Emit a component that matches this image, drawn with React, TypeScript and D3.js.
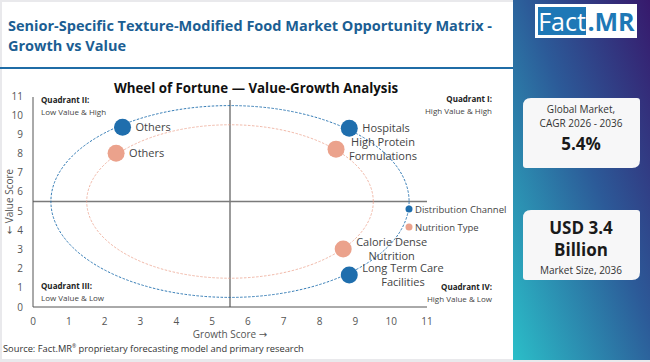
import { useEffect, useRef } from 'react';
import * as d3 from 'd3';

const W = 650, H = 362;
const X0 = 33, X1 = 427, Y0 = 307, Y1 = 96;
const FONT = "'Open Sans', 'DejaVu Sans', sans-serif";

const ticks = [0, 1, 2, 3, 4, 5, 6, 7, 8, 9, 10, 11];
const seriesNames = ['Distribution Channel', 'Nutrition Type'];
const seriesColors = ['#1f6ead', '#eba28c'];
const ringRadius = [5, 4];
const center = 5.5;

const channelLabels = ['Others', 'Hospitals', 'Long Term Care\nFacilities'];
const channelGrowth = [2.5, 8.83, 8.83];
const channelValue = [9.37, 9.32, 1.67];

const nutritionLabels = ['Others', 'High Protein\nFormulations', 'Calorie Dense\nNutrition'];
const nutritionGrowth = [2.32, 8.46, 8.66];
const nutritionValue = [8.02, 8.23, 3.02];

export default function App() {
  const svgRef = useRef<SVGSVGElement>(null);

  useEffect(() => {
    const svg = d3.select(svgRef.current);
    svg.selectAll('*').remove();

    const x = d3.scaleLinear().domain([0, 11]).range([X0, X1]);
    const y = d3.scaleLinear().domain([0, 11]).range([Y0, Y1]);

    const defs = svg.append('defs');
    const grad = defs.append('linearGradient')
      .attr('id', 'side')
      .attr('x1', 1).attr('y1', 0).attr('x2', 0).attr('y2', 1);
    grad.append('stop').attr('offset', 0).attr('stop-color', '#37196c');
    grad.append('stop').attr('offset', 0.45).attr('stop-color', '#2c5a98');
    grad.append('stop').attr('offset', 1).attr('stop-color', '#2bbec8');

    // frame
    svg.append('rect').attr('width', W).attr('height', H).attr('fill', '#e9e9ec');
    svg.append('rect').attr('x', 2).attr('y', 2).attr('width', 512).attr('height', 357).attr('fill', '#fff');
    svg.append('rect').attr('x', 513).attr('y', 0).attr('width', 137).attr('height', 360).attr('fill', 'url(#side)');
    svg.append('line').attr('x1', 0).attr('x2', 513).attr('y1', 68).attr('y2', 68)
      .attr('stroke', '#1f6ca6').attr('stroke-width', 2);

    // title
    const title = svg.append('text').attr('font-family', FONT).attr('font-weight', 700)
      .attr('font-size', 14.5).attr('fill', '#1b5e93');
    title.append('tspan').attr('x', 8).attr('y', 31).text('Senior-Specific Texture-Modified Food Market Opportunity Matrix -');
    title.append('tspan').attr('x', 8).attr('y', 51).text('Growth vs Value');

    // sidebar
    const logo = svg.append('g');
    logo.append('rect').attr('x', 535).attr('y', 4).attr('width', 102).attr('height', 34).attr('fill', '#fff');
    logo.append('rect').attr('x', 538).attr('y', 7).attr('width', 48).attr('height', 28).attr('fill', '#1e78b6');
    logo.append('text').attr('x', 562).attr('y', 31).attr('text-anchor', 'middle')
      .attr('font-family', FONT).attr('font-size', 25).attr('fill', '#fff').text('Fact');
    logo.append('text').attr('x', 611).attr('y', 31).attr('text-anchor', 'middle')
      .attr('font-family', FONT).attr('font-size', 25).attr('font-weight', 700).attr('fill', '#1e78b6').text('.MR');

    const card = (y0: number, lines: [string, number, number, number][]) => {
      svg.append('path')
        .attr('d', `M531,${y0} H637 Q640,${y0} 640,${y0 + 3} V${y0 + 62} Q640,${y0 + 70} 632,${y0 + 70} H526 Q523,${y0 + 70} 523,${y0 + 67} V${y0 + 8} Q523,${y0} 531,${y0} Z`)
        .attr('fill', '#f7f7f8');
      lines.forEach(([t, dy, fs, fw]) => {
        svg.append('text').attr('x', 581).attr('y', y0 + dy).attr('text-anchor', 'middle')
          .attr('font-family', FONT).attr('font-size', fs).attr('font-weight', fw)
          .attr('fill', fw > 500 ? '#1a1a1a' : '#333').text(t);
      });
    };
    card(98, [['Global Market,', 15, 10, 400], ['CAGR 2026 - 2036', 29, 10, 400], ['5.4%', 52, 17, 700]]);
    card(210, [['USD 3.4', 24, 17, 700], ['Billion', 46, 17, 700], ['Market Size, 2036', 64, 10, 400]]);

    // chart title
    svg.append('text').attr('x', 256).attr('y', 93).attr('text-anchor', 'middle')
      .attr('font-family', FONT).attr('font-weight', 700).attr('font-size', 13.3).attr('fill', '#111')
      .text('Wheel of Fortune — Value-Growth Analysis');

    // quadrant lines and axes
    const g = svg.append('g');
    g.append('line').attr('x1', x(5.5)).attr('x2', x(5.5)).attr('y1', 100).attr('y2', Y0)
      .attr('stroke', '#7a7a7a').attr('stroke-width', 1.5);
    g.append('line').attr('x1', X0).attr('x2', X1).attr('y1', y(5.5)).attr('y2', y(5.5))
      .attr('stroke', '#7a7a7a').attr('stroke-width', 1.5);
    g.append('line').attr('x1', X0).attr('x2', X0).attr('y1', 97).attr('y2', Y0)
      .attr('stroke', '#555').attr('stroke-width', 1);
    g.append('line').attr('x1', X0).attr('x2', X1).attr('y1', Y0).attr('y2', Y0)
      .attr('stroke', '#555').attr('stroke-width', 1);

    g.selectAll('.xt').data(ticks).join('text').attr('class', 'xt')
      .attr('x', (d) => x(d)).attr('y', 325).attr('text-anchor', 'middle')
      .attr('font-family', FONT).attr('font-size', 10).attr('fill', '#555').text((d) => d);
    g.selectAll('.yt').data(ticks).join('text').attr('class', 'yt')
      .attr('x', 23).attr('y', (d) => y(d) + 3.5).attr('text-anchor', 'end')
      .attr('font-family', FONT).attr('font-size', 10).attr('fill', '#555').text((d) => d);

    g.append('text').attr('x', 230).attr('y', 338).attr('text-anchor', 'middle')
      .attr('font-family', FONT).attr('font-size', 10).attr('fill', '#555').text('Growth Score →');
    g.append('text').attr('transform', `translate(13,${y(5.5)}) rotate(-90)`).attr('text-anchor', 'middle')
      .attr('font-family', FONT).attr('font-size', 10).attr('fill', '#555').text('← Value Score');

    // rings
    ringRadius.forEach((r, i) => {
      g.append('ellipse').attr('cx', x(center)).attr('cy', y(center))
        .attr('rx', x(r) - x(0)).attr('ry', y(0) - y(r))
        .attr('fill', 'none').attr('stroke', seriesColors[i]).attr('stroke-width', 1)
        .attr('stroke-dasharray', '2.5,1.5').attr('opacity', i === 0 ? 0.9 : 0.75);
    });

    // quadrant labels
    const quad = (qx: number, qy: number, anchor: string, head: string, sub: string) => {
      g.append('text').attr('x', qx).attr('y', qy).attr('text-anchor', anchor)
        .attr('font-family', FONT).attr('font-size', 8).attr('font-weight', 700).attr('fill', '#222').text(head);
      g.append('text').attr('x', qx).attr('y', qy + 12).attr('text-anchor', anchor)
        .attr('font-family', FONT).attr('font-size', 8).attr('fill', '#444').text(sub);
    };
    quad(41, 103, 'start', 'Quadrant II:', 'Low Value & High');
    quad(492, 102, 'end', 'Quadrant I:', 'High Value & High');
    quad(41, 289, 'start', 'Quadrant III:', 'Low Value & Low');
    quad(492, 290, 'end', 'Quadrant IV:', 'High Value & Low');

    // points
    const series = [
      { labels: channelLabels, gx: channelGrowth, vy: channelValue },
      { labels: nutritionLabels, gx: nutritionGrowth, vy: nutritionValue },
    ];
    series.forEach((s, si) => {
      s.labels.forEach((lab, k) => {
        const px = x(s.gx[k]), py = y(s.vy[k]);
        g.append('circle').attr('cx', px).attr('cy', py).attr('r', 8.5).attr('fill', seriesColors[si]);
        const lines = lab.split('\n');
        const t = g.append('text').attr('font-family', FONT).attr('font-size', 11).attr('fill', '#444');
        const spans = lines.map((ln, li) =>
          t.append('tspan').attr('y', py + 4 + (li - (lines.length - 1) / 2) * 14.5).text(ln));
        const widths = spans.map((sp) => (sp.node() as SVGTSpanElement).getComputedTextLength());
        const maxW = d3.max(widths) ?? 0;
        spans.forEach((sp) => sp.attr('x', px + 13 + maxW / 2).attr('text-anchor', 'middle'));
      });
    });

    // legend
    seriesNames.forEach((n, i) => {
      g.append('circle').attr('cx', 409).attr('cy', 209 + i * 18).attr('r', 3.5).attr('fill', seriesColors[i]);
      g.append('text').attr('x', 415).attr('y', 212.5 + i * 18)
        .attr('font-family', FONT).attr('font-size', 9.5).attr('fill', '#444').text(n);
    });

    // source
    const src = svg.append('text').attr('x', 3).attr('y', 352)
      .attr('font-family', FONT).attr('font-size', 9.3).attr('fill', '#333');
    src.append('tspan').text('Source: Fact.MR');
    src.append('tspan').attr('dy', -4).attr('font-size', 5).text('®');
    src.append('tspan').attr('dy', 4).text(' proprietary forecasting model and primary research');
  }, []);

  return (
    <svg ref={svgRef} width={W} height={H} viewBox={`0 0 ${W} ${H}`}
      style={{ position: 'absolute', left: 0, top: 0, display: 'block' }} />
  );
}
